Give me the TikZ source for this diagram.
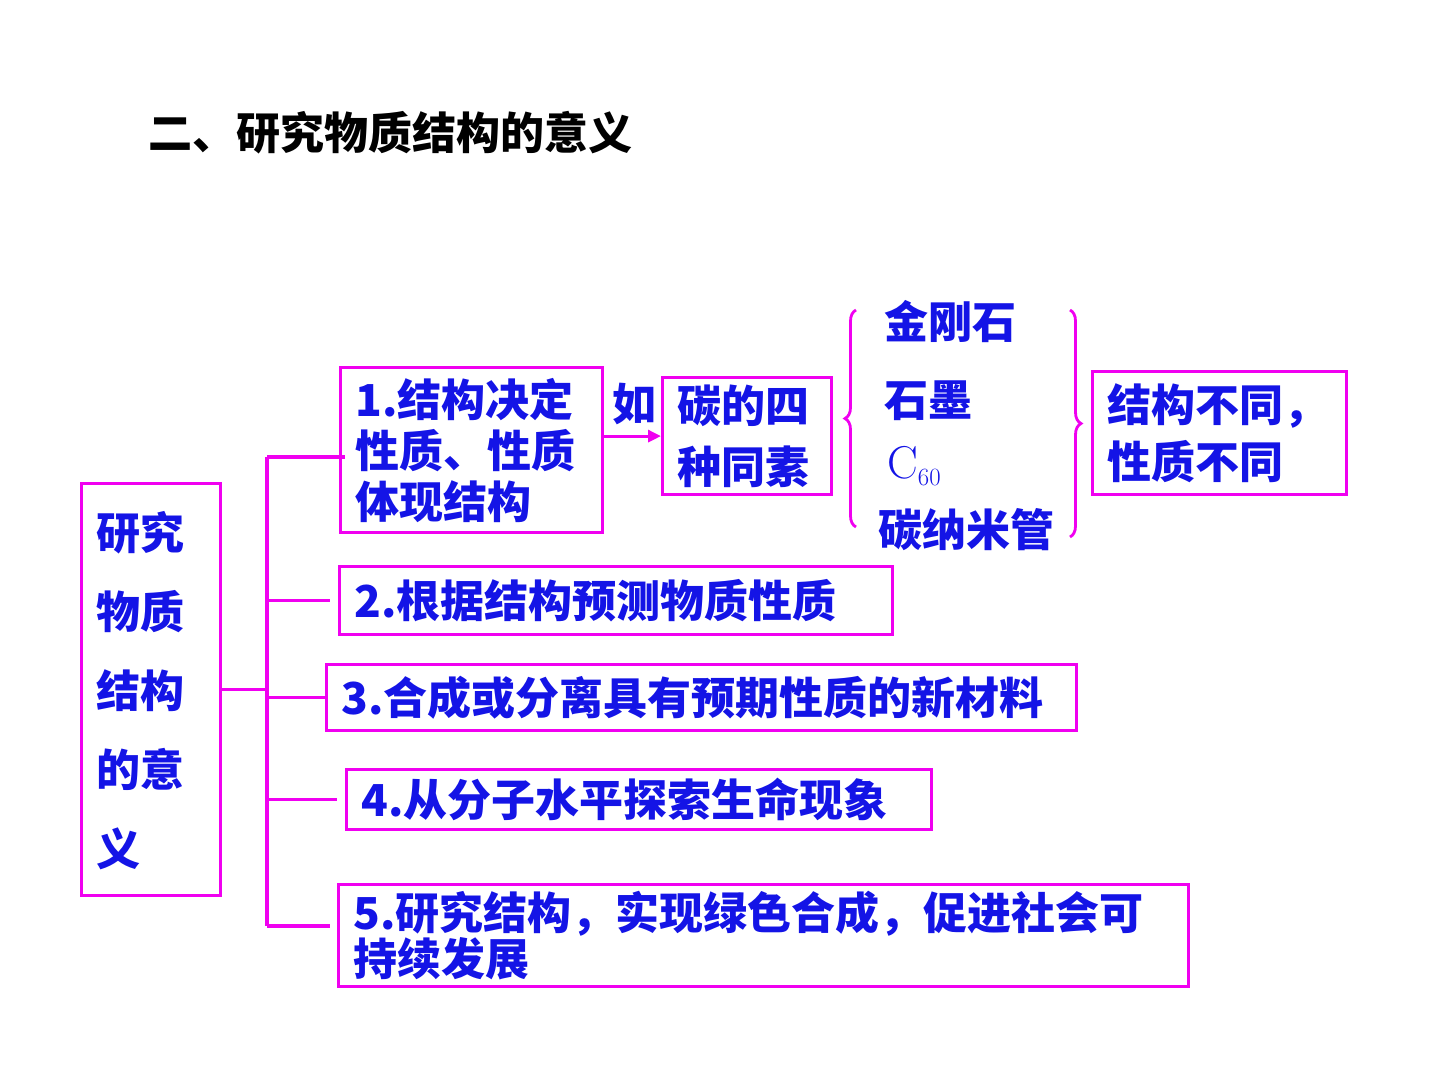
\documentclass[tikz,border=0pt]{standalone}
\usepackage{fontspec}
\newfontfamily\cjk{Noto Sans CJK SC}
\usetikzlibrary{arrows.meta, positioning, calc, decorations.pathreplacing}
\definecolor{framemagenta}{HTML}{F000F0}
\definecolor{inkblue}{HTML}{1414E6}

\begin{document}
\begin{tikzpicture}[
    x=1bp, y=-1bp,
    font=\cjk\bfseries\fontsize{44bp}{50bp}\selectfont,
    >={Triangle[length=13bp, width=12bp]},
    mean box/.style n args={3}{draw=framemagenta, line width=3.2bp,
        text=inkblue, anchor=north west, align=left,
        inner xsep=15bp, inner ysep=0bp,
        minimum width=#1bp, minimum height=#2bp, text width=#1bp-30bp,
        font=\cjk\bfseries\fontsize{44bp}{#3bp}\selectfont},
    form label/.style={text=inkblue, anchor=west, inner sep=0bp},
    page title/.style={text=black, anchor=west, inner sep=0bp},
    tree line/.style={draw=framemagenta, line width=3.2bp},
    flow arrow/.style={draw=framemagenta, line width=3.2bp, ->},
    brace line/.style={draw=framemagenta, line width=2.8bp, decorate,
        decoration={brace, amplitude=11bp}},
]
\useasboundingbox (0,0) rectangle (1440,1080);

% ══════════════════════════════════════════════════════════════════════
%  TITLE
% ══════════════════════════════════════════════════════════════════════
\node[page title] (title) at (148,133) {二、研究物质结构的意义};

% ══════════════════════════════════════════════════════════════════════
%  BOXES — root on the left, five points on the right
% ══════════════════════════════════════════════════════════════════════
\def\trunkX{267}

\node[mean box={139}{412}{79}] (root) at (80,482)
    {\rule{0pt}{40bp}研究\\物质\\结构\\的意\\义};

\node[mean box={262}{165}{51}] (pointA) at (339,366)
    {1.结构决定\\性质、性质\\体现结构};
\node[mean box={553}{68}{50}]  (pointB) at (338,565)
    {2.根据结构预测物质性质};
\node[mean box={750}{66}{50}]  (pointC) at (325,663)
    {3.合成或分离具有预期性质的新材料};
\node[mean box={585}{60}{50}]  (pointD) at (345,768)
    {4.从分子水平探索生命现象};
\node[mean box={850}{102}{46}] (pointE) at (337,883)
    {5.研究结构，实现绿色合成，促进社会可\\持续发展};

% ── carbon example ────────────────────────────────────────────────────
\node[mean box={169}{117}{61}] (carbon) at (661,376) {碳的四\\种同素};
\node[text=inkblue, inner sep=0bp] (asin) at (634,404) {如};

\node[form label] (diamond)  at (884,322) {金刚石};
\node[form label] (graphite) at (884,401) {石墨};
\node[form label] (fullerene) at (887,466)
    {\rmfamily\mdseries\fontsize{46bp}{50bp}\selectfont C$_{60}$};
\node[form label] (nanotube) at (878,530) {碳纳米管};

\node[mean box={254}{123}{57}] (result) at (1091,370)
    {结构不同，\\性质不同};

% ── braces round the four forms ───────────────────────────────────────
\draw[brace line] (856,527) -- (856,310);
\draw[brace line] (1070,310) -- (1070,537);

% ══════════════════════════════════════════════════════════════════════
%  TREE LINES
% ══════════════════════════════════════════════════════════════════════
\coordinate (trunkT) at (\trunkX,457);
\coordinate (trunkB) at (\trunkX,926);

\draw[tree line] (root.east) -- (root.east -| trunkT);
\draw[tree line] (trunkT) -- (trunkB);
\draw[tree line] (trunkT) -- ($(trunkT -| pointA.west)+(6,0)$);
\draw[tree line, shorten >=8bp] (trunkT |- pointB.west) -- (pointB.west);
\draw[tree line] (trunkT |- pointC.west) -- (pointC.west);
\draw[tree line, shorten >=8bp] (trunkT |- pointD.west) -- (pointD.west);
\draw[tree line, shorten >=7bp] (trunkB) -- (trunkB -| pointE.west);

% ── example arrow ─────────────────────────────────────────────────────
\draw[flow arrow] (carbon.west -| pointA.east) -- (carbon.west);

\end{tikzpicture}
\end{document}
